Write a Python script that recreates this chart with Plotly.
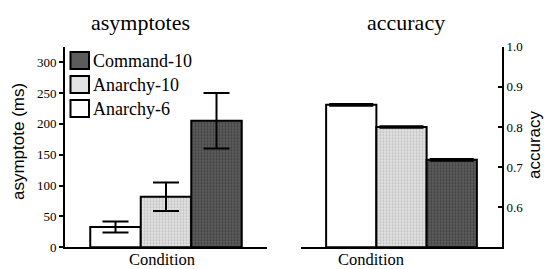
import plotly.graph_objects as go

conditions = ["Anarchy-6", "Anarchy-10", "Command-10"]
positions = [1, 2, 3]
asym_values = [33, 82, 205]
asym_errors = [9, 23, 45]
acc_values = [0.855, 0.800, 0.718]
acc_errors = [0.002, 0.002, 0.002]
asym_ticks = [0, 50, 100, 150, 200, 250, 300]
acc_ticks = [0.6, 0.7, 0.8, 0.9, 1.0]
acc_tick_text = ["0.6", "0.7", "0.8", "0.9", "1.0"]
acc_floor = 0.5

fills = {"Anarchy-6": "#ffffff", "Anarchy-10": "#e2e2e2", "Command-10": "#5c5c5c"}
pat_fg = {"Anarchy-6": "#ffffff", "Anarchy-10": "#bdbdbd", "Command-10": "#3e3e3e"}

SERIF = "Liberation Serif, Times New Roman, serif"
SANS = "Liberation Sans, Arial, sans-serif"

W, H = 544, 269
def px(x):
    return x / W
def py(y):
    return 1 - y / H

fig = go.Figure()
for i, c in enumerate(conditions):
    if c == "Anarchy-6":
        pattern = dict(shape="")
    else:
        pattern = dict(shape=".", fgcolor=pat_fg[c], bgcolor=fills[c], fillmode="replace",
                       size=3, solidity=0.35)
    fig.add_trace(go.Bar(
        x=[positions[i]], y=[asym_values[i]], name=c, width=1,
        marker=dict(color=fills[c], line=dict(color="black", width=2), pattern=pattern),
        error_y=dict(type="data", array=[asym_errors[i]], color="black", thickness=2, width=13),
        xaxis="x", yaxis="y", showlegend=False, hoverinfo="skip"))
    fig.add_trace(go.Bar(
        x=[positions[i]], y=[acc_values[i] - acc_floor], base=acc_floor, name=c, width=1,
        marker=dict(color=fills[c], line=dict(color="black", width=2), pattern=pattern),
        error_y=dict(type="data", array=[acc_errors[i]], color="black", thickness=2, width=22),
        xaxis="x2", yaxis="y2", showlegend=False, hoverinfo="skip"))

axis_common = dict(showgrid=False, zeroline=False, showline=True, linecolor="black",
                   linewidth=2, automargin=False)
fig.update_layout(
    template="none",
    width=W, height=H, margin=dict(l=0, r=0, t=0, b=0, pad=0),
    paper_bgcolor="white", plot_bgcolor="white",
    barmode="overlay",
    font=dict(family=SERIF, size=13, color="black"),
    xaxis=dict(domain=[px(65), px(267)], range=[0, 4], showticklabels=False, ticks="", anchor="y", **axis_common),
    yaxis=dict(domain=[py(247.3), py(46.7)], range=[0, 325], tickvals=asym_ticks,
               ticks="outside", ticklen=4, tickwidth=2, tickcolor="black",
               tickfont=dict(family=SERIF, size=13), anchor="x", **axis_common),
    xaxis2=dict(domain=[px(301), px(502)], range=[0, 4], showticklabels=False, ticks="", anchor="y2", **axis_common),
    yaxis2=dict(domain=[py(247.3), py(46.7)], range=[0.5, 1.0], tickvals=acc_ticks, ticktext=acc_tick_text,
                side="right", anchor="x2", ticks="inside", ticklen=4, tickwidth=2, tickcolor="black",
                tickfont=dict(family=SERIF, size=13), **axis_common),
)

annotations = [
    dict(text="asymptotes", x=px(140), y=py(22), font=dict(family=SERIF, size=22)),
    dict(text="accuracy", x=px(406), y=py(22), font=dict(family=SERIF, size=22)),
    dict(text="Condition", x=px(162), y=py(259), font=dict(family=SERIF, size=16.5)),
    dict(text="Condition", x=px(371), y=py(259), font=dict(family=SERIF, size=16.5)),
    dict(text="asymptote (ms)", x=px(18), y=py(142), textangle=-90, font=dict(family=SANS, size=17)),
    dict(text="accuracy", x=px(534), y=py(145), textangle=-90, font=dict(family=SANS, size=17)),
]
for a in annotations:
    a.update(xref="paper", yref="paper", showarrow=False, xanchor="center", yanchor="middle")

legend_items = ["Command-10", "Anarchy-10", "Anarchy-6"]
shapes = []
for k, c in enumerate(legend_items):
    top = 52 + k * 24
    shapes.append(dict(type="rect", xref="paper", yref="paper",
                       x0=px(70.5), x1=px(89), y0=py(top + 17), y1=py(top),
                       fillcolor=fills[c], line=dict(color="black", width=2)))
    annotations.append(dict(text=c, xref="paper", yref="paper", x=px(91), y=py(top + 9),
                            xanchor="left", yanchor="middle", showarrow=False,
                            font=dict(family=SERIF, size=18)))
fig.update_layout(annotations=annotations, shapes=shapes)

fig.write_html("out.html",
               config={"displayModeBar": False, "staticPlot": True},
               post_script="document.body.style.margin='0';document.body.style.padding='0';"
                           "document.body.style.overflow='hidden';")
